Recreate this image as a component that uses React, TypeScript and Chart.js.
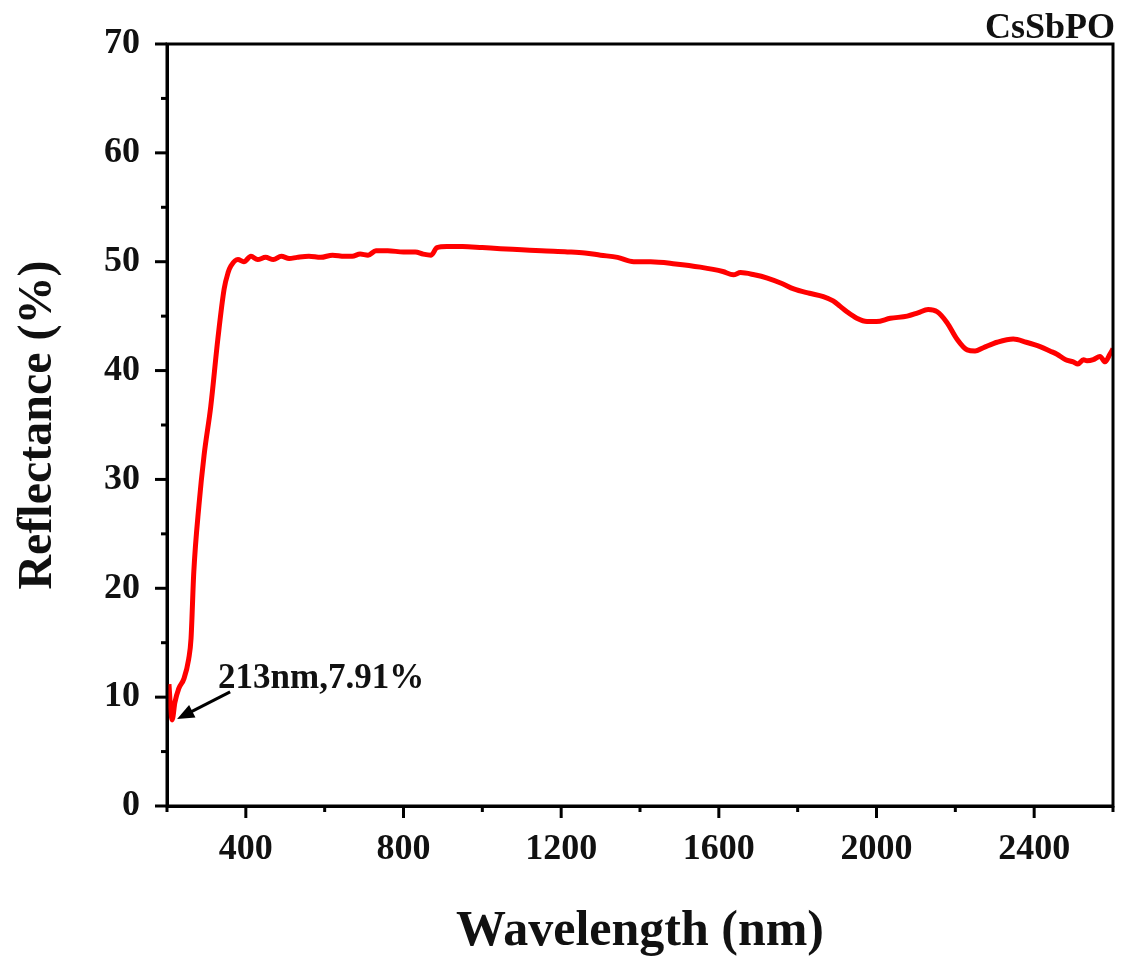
import React, { useEffect, useRef } from 'react';
import { Chart, registerables } from 'chart.js';

Chart.register(...registerables);

const SERIES_LABEL = 'CsSbPO';

const WAVELENGTH = [
  205, 209, 213, 220, 230, 243, 255, 261, 268, 281, 294, 311, 329, 345, 355, 362, 380, 395,
  413, 430, 450, 470, 490, 510, 530, 560, 590, 620, 650, 670, 690, 710, 730, 760, 800, 830,
  850, 870, 885, 910, 950, 1000, 1046, 1100, 1150, 1216, 1260, 1300, 1343, 1384, 1427, 1490,
  1553, 1610, 1637, 1655, 1690, 1723, 1760, 1790, 1830, 1865, 1890, 1908, 1925, 1950, 1976,
  2000, 2035, 2078, 2105, 2131, 2154, 2179, 2204, 2230, 2250, 2271, 2306, 2347, 2380, 2415,
  2440, 2458, 2480, 2499, 2511, 2525, 2534, 2550, 2567, 2580, 2592, 2600,
];

const REFLECTANCE = [
  11.2, 9.0, 7.91, 9.5, 10.8, 11.7, 13.5, 15.4, 21.5, 27.6, 32.2, 36.7, 42.9, 47.5, 49.0, 49.6,
  50.2, 50.0, 50.5, 50.2, 50.4, 50.2, 50.5, 50.3, 50.4, 50.5, 50.4, 50.6, 50.5, 50.5, 50.7,
  50.6, 51.0, 51.0, 50.9, 50.9, 50.7, 50.6, 51.3, 51.4, 51.4, 51.3, 51.2, 51.1, 51.0, 50.9,
  50.8, 50.6, 50.4, 50.0, 50.0, 49.8, 49.5, 49.1, 48.8, 49.0, 48.8, 48.5, 48.0, 47.5, 47.1,
  46.8, 46.4, 45.9, 45.4, 44.8, 44.5, 44.5, 44.8, 45.0, 45.3, 45.6, 45.4, 44.4, 42.9, 41.9,
  41.8, 42.1, 42.6, 42.9, 42.6, 42.2, 41.8, 41.5, 41.0, 40.8, 40.6, 41.0, 40.9, 41.0, 41.3,
  40.8, 41.5, 42.0,
];

const X_TICKS = [400, 800, 1200, 1600, 2000, 2400];
const X_MINOR = [200, 600, 1000, 1400, 1800, 2200, 2600];
const Y_TICKS = [0, 10, 20, 30, 40, 50, 60, 70];
const Y_MINOR = [5, 15, 25, 35, 45, 55, 65];

const ANNOT_X = 213;
const ANNOT_Y = 7.91;
const ANNOT_TEXT = '213nm,7.91%';

const FONT = '"Liberation Serif", "Times New Roman", serif';

const framePlugin = {
  id: 'frame',
  afterDraw(chart: any) {
    const { ctx, chartArea: a, scales } = chart;
    const xs = scales.x;
    const ys = scales.y;
    ctx.save();
    ctx.strokeStyle = '#000';
    ctx.fillStyle = '#000';
    ctx.lineWidth = 3;
    ctx.lineCap = 'butt';
    ctx.strokeRect(a.left, a.top, a.right - a.left, a.bottom - a.top);

    const line = (x1: number, y1: number, x2: number, y2: number) => {
      ctx.beginPath();
      ctx.moveTo(x1, y1);
      ctx.lineTo(x2, y2);
      ctx.stroke();
    };
    X_TICKS.forEach((v) => {
      const p = xs.getPixelForValue(v);
      line(p, a.bottom, p, a.bottom + 12);
    });
    X_MINOR.forEach((v) => {
      const p = xs.getPixelForValue(v);
      line(p, a.bottom, p, a.bottom + 6);
    });
    Y_TICKS.forEach((v) => {
      const p = ys.getPixelForValue(v);
      line(a.left, p, a.left - 12, p);
    });
    Y_MINOR.forEach((v) => {
      const p = ys.getPixelForValue(v);
      line(a.left, p, a.left - 6, p);
    });

    // annotation arrow
    const px = xs.getPixelForValue(ANNOT_X);
    const py = ys.getPixelForValue(ANNOT_Y);
    const tipX = px + 5;
    const tipY = py - 1;
    const tailX = px + 58;
    const tailY = py - 28;
    const ang = Math.atan2(tipY - tailY, tipX - tailX);
    const head = 17;
    const hw = 7;
    ctx.lineWidth = 3;
    line(tailX, tailY, tipX - Math.cos(ang) * (head - 2), tipY - Math.sin(ang) * (head - 2));
    ctx.beginPath();
    ctx.moveTo(tipX, tipY);
    ctx.lineTo(
      tipX - Math.cos(ang) * head - Math.sin(ang) * hw,
      tipY - Math.sin(ang) * head + Math.cos(ang) * hw
    );
    ctx.lineTo(
      tipX - Math.cos(ang) * head + Math.sin(ang) * hw,
      tipY - Math.sin(ang) * head - Math.cos(ang) * hw
    );
    ctx.closePath();
    ctx.fill();

    ctx.font = `bold 35px ${FONT}`;
    ctx.textAlign = 'left';
    ctx.textBaseline = 'alphabetic';
    ctx.fillStyle = '#111';
    ctx.fillText(ANNOT_TEXT, px + 46, py - 32);

    // series label
    ctx.font = `bold 36px ${FONT}`;
    ctx.textAlign = 'right';
    ctx.fillText(chart.data.datasets[0].label, a.right + 2, a.top - 6);
    ctx.restore();
  },
};

export default function App() {
  const canvasRef = useRef<HTMLCanvasElement | null>(null);

  useEffect(() => {
    if (!canvasRef.current) return;
    const data = WAVELENGTH.map((w, i) => ({ x: w, y: REFLECTANCE[i] }));
    const chart = new Chart(canvasRef.current, {
      type: 'line',
      data: {
        datasets: [
          {
            label: SERIES_LABEL,
            data,
            borderColor: '#ff0000',
            borderWidth: 5,
            pointRadius: 0,
            cubicInterpolationMode: 'monotone',
            fill: false,
          },
        ],
      },
      options: {
        animation: false,
        responsive: true,
        maintainAspectRatio: false,
        layout: { padding: { top: 44, right: 10, left: 0, bottom: 0 } },
        plugins: { legend: { display: false }, tooltip: { enabled: false } },
        scales: {
          x: {
            type: 'linear',
            min: 200,
            max: 2600,
            grid: { display: false, drawTicks: false },
            border: { display: true, width: 3, color: '#000' },
            afterBuildTicks: (s: any) => {
              s.ticks = X_TICKS.map((v) => ({ value: v }));
            },
            afterFit: (s: any) => {
              s.height = 156;
              s.paddingLeft = 0;
              s.paddingRight = 0;
            },
            ticks: {
              color: '#111',
              padding: 22,
              maxRotation: 0,
              autoSkip: false,
              callback: (v: any) => String(v),
              font: { family: FONT, size: 36, weight: 'bold' },
            },
            title: {
              display: true,
              text: 'Wavelength (nm)',
              color: '#111',
              padding: { top: 0, bottom: 0 },
              font: { family: FONT, size: 50, weight: 'bold' },
            },
          },
          y: {
            type: 'linear',
            min: 0,
            max: 70,
            grid: { display: false, drawTicks: false },
            border: { display: true, width: 3, color: '#000' },
            afterBuildTicks: (s: any) => {
              s.ticks = Y_TICKS.map((v) => ({ value: v }));
            },
            afterFit: (s: any) => {
              s.width = 167;
              s.paddingTop = 0;
              s.paddingBottom = 0;
            },
            ticks: {
              color: '#111',
              padding: 27,
              autoSkip: false,
              callback: (v: any) => String(v),
              font: { family: FONT, size: 36, weight: 'bold' },
            },
            title: {
              display: true,
              text: 'Reflectance (%)',
              color: '#111',
              padding: { top: 10, bottom: 0 },
              font: { family: FONT, size: 48, weight: 'bold' },
            },
          },
        },
      },
      plugins: [framePlugin],
    } as any);
    return () => chart.destroy();
  }, []);

  return (
    <div style={{ position: 'fixed', left: 0, top: 0, width: 1123, height: 962, background: '#fff' }}>
      <canvas ref={canvasRef} />
    </div>
  );
}
